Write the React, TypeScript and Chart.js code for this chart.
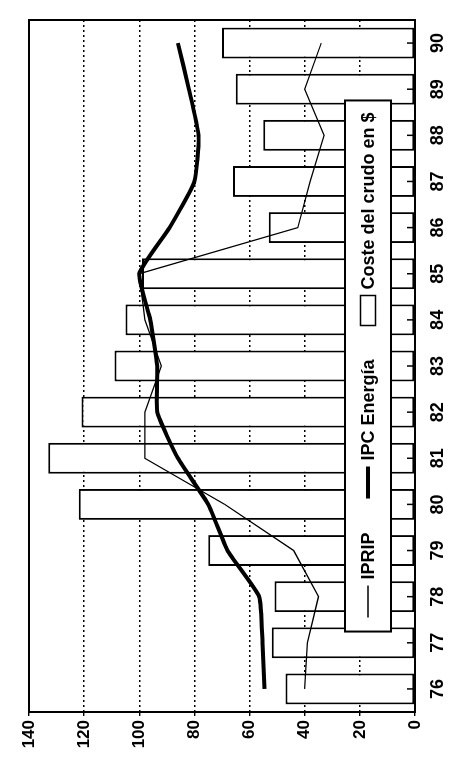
import React, { useEffect, useRef } from 'react';
import { Chart, registerables } from 'chart.js';

Chart.register(...registerables);

const years = ['76', '77', '78', '79', '80', '81', '82', '83', '84', '85', '86', '87', '88', '89', '90'];
const costeCrudo = [47, 52, 51, 75, 122, 133, 121, 109, 105, 99, 53, 66, 55, 65, 70];
const ipripValues = [40, 39, 35, 44, 69, 98, 98, 92, 98, 100, 42.5, 38, 33, 40, 34];
const ipcEnergia = [54.6, 55.3, 56.5, 68, 75, 86, 93.5, 93.5, 96, 100, 89, 80, 78.5, 82, 86];
const valueMin = 0;
const valueMax = 140;
const valueStep = 20;

const W = 765;
const H = 457;
const FONT = '"Liberation Sans", Arial, Helvetica, sans-serif';

const frameLegendPlugin = {
  id: 'frameLegend',
  afterDraw(chart: any) {
    const { ctx, chartArea: a, scales } = chart;
    ctx.save();
    // year tick marks inside the frame
    ctx.strokeStyle = '#000';
    ctx.lineWidth = 1.5;
    ctx.setLineDash([]);
    const xs = scales.x;
    for (let i = 0; i < xs.ticks.length; i++) {
      const px = xs.getPixelForTick(i);
      ctx.beginPath();
      ctx.moveTo(px, a.bottom);
      ctx.lineTo(px, a.bottom - 8);
      ctx.stroke();
    }
    // frame
    ctx.lineWidth = 2;
    ctx.strokeRect(a.left, a.top, a.right - a.left, a.bottom - a.top);

    // legend inside plot
    ctx.font = `bold 18px ${FONT}`;
    const padL = 14;
    const padR = 12;
    const gapText = 6;
    const gapItem = 34;
    const items = chart.data.datasets.map((ds: any) => {
      const isBar = (ds.type || chart.config.type) === 'bar';
      const sw = isBar ? 30 : 32;
      return { ds, isBar, sw, tw: ctx.measureText(ds.label).width };
    });
    let total = padL + padR;
    items.forEach((it: any, i: number) => {
      total += it.sw + gapText + it.tw + (i < items.length - 1 ? gapItem : 0);
    });
    const boxH = 46;
    const boxBottom = a.bottom - 24;
    const boxTop = boxBottom - boxH;
    const boxLeft = (a.left + a.right) / 2 - total / 2;
    ctx.fillStyle = '#fff';
    ctx.fillRect(boxLeft, boxTop, total, boxH);
    ctx.lineWidth = 2;
    ctx.strokeStyle = '#000';
    ctx.strokeRect(boxLeft, boxTop, total, boxH);
    const cy = boxTop + boxH / 2;
    let cx = boxLeft + padL;
    items.forEach((it: any) => {
      const ds = it.ds;
      if (it.isBar) {
        ctx.fillStyle = '#fff';
        ctx.fillRect(cx, cy - 7.5, it.sw, 15);
        ctx.lineWidth = 1.5;
        ctx.strokeRect(cx, cy - 7.5, it.sw, 15);
      } else {
        ctx.lineWidth = ds.borderWidth;
        ctx.beginPath();
        ctx.moveTo(cx, cy);
        ctx.lineTo(cx + it.sw, cy);
        ctx.stroke();
      }
      cx += it.sw + gapText;
      ctx.fillStyle = '#000';
      ctx.textBaseline = 'middle';
      ctx.textAlign = 'left';
      ctx.fillText(ds.label, cx, cy + 1);
      cx += it.tw + gapItem;
    });
    ctx.restore();
  },
};

export default function App() {
  const canvasRef = useRef<HTMLCanvasElement | null>(null);

  useEffect(() => {
    if (!canvasRef.current) return;
    const chart = new Chart(canvasRef.current, {
      type: 'bar',
      data: {
        labels: years,
        datasets: [
          {
            type: 'line',
            label: 'IPRIP',
            data: ipripValues,
            borderColor: '#000',
            borderWidth: 1.3,
            pointRadius: 0,
            tension: 0,
            fill: false,
          },
          {
            type: 'line',
            label: 'IPC Energía',
            data: ipcEnergia,
            borderColor: '#000',
            borderWidth: 4,
            pointRadius: 0,
            tension: 0.15,
            fill: false,
          },
          {
            type: 'bar',
            label: 'Coste del crudo en $',
            data: costeCrudo,
            backgroundColor: '#fff',
            borderColor: '#000',
            borderWidth: 2,
            borderSkipped: false,
            barPercentage: 0.67,
            categoryPercentage: 1,
          },
        ],
      } as any,
      options: {
        animation: false,
        responsive: false,
        devicePixelRatio: 1,
        layout: { padding: { top: 29, right: 20, left: 0, bottom: 0 } },
        plugins: {
          legend: { display: false },
          tooltip: { enabled: false },
        },
        scales: {
          x: {
            type: 'category',
            offset: true,
            grid: { display: false },
            border: { display: false },
            ticks: {
              color: '#000',
              font: { family: FONT, size: 18, weight: 'bold' },
              padding: 4,
              maxRotation: 0,
              minRotation: 0,
            },
            afterFit: (axis: any) => {
              axis.height = 42;
            },
          },
          y: {
            min: valueMin,
            max: valueMax,
            grid: {
              color: '#000',
              lineWidth: 1.4,
              drawTicks: true,
              tickLength: 4,
              tickColor: '#000',
            },
            border: { display: false, dash: [2, 3] },
            ticks: {
              stepSize: valueStep,
              color: '#000',
              font: { family: FONT, size: 17, weight: 'bold' },
              padding: 4,
            },
            afterFit: (axis: any) => {
              axis.width = 53;
            },
          },
        },
      } as any,
      plugins: [frameLegendPlugin],
    });
    return () => chart.destroy();
  }, []);

  return (
    <div
      style={{
        position: 'fixed',
        left: 0,
        top: 0,
        width: 457,
        height: 765,
        overflow: 'hidden',
        background: '#fff',
      }}
    >
      <div
        style={{
          position: 'absolute',
          left: 0,
          top: 0,
          width: W,
          height: H,
          transformOrigin: '0 0',
          transform: `translateY(${W}px) rotate(-90deg)`,
        }}
      >
        <canvas ref={canvasRef} width={W} height={H} style={{ display: 'block', width: W, height: H }} />
      </div>
    </div>
  );
}
